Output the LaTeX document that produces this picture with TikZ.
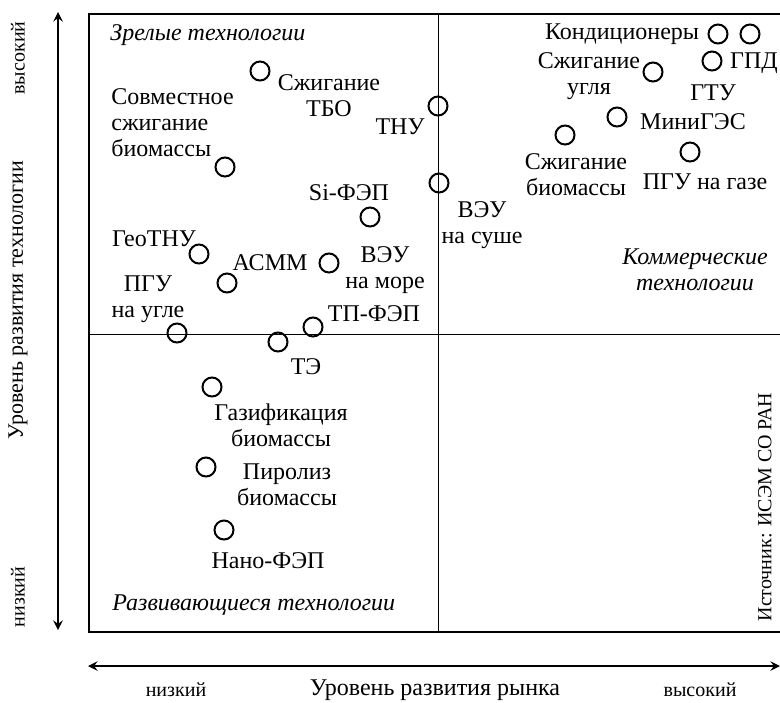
\documentclass[tikz,border=0pt]{standalone}
\usepackage{fontspec}
\setmainfont{Liberation Serif}
\usepackage{tikz}
\usetikzlibrary{shapes,arrows,positioning,calc}
\tikzstyle{tech} = [circle, draw=black, line width=1pt, minimum size=9.5pt, inner sep=0pt]
\tikzstyle{techname} = [align=center, inner sep=0pt, font=\fontsize{12}{13}\selectfont]
\tikzstyle{quarter} = [align=center, inner sep=0pt, font=\fontsize{12}{13}\selectfont\itshape]
\tikzstyle{axistext} = [inner sep=0pt, font=\fontsize{10}{12}\selectfont]
\tikzstyle{axis} = [line width=1.1pt,<->,>=stealth]

\begin{document}
\begin{tikzpicture}[x=0.5pt, y=-0.5pt]
    \useasboundingbox (0,0) rectangle (780,702);
    % Frame
    \coordinate (nw) at (89,14);
    \coordinate (se) at (783,632);
    \coordinate (midtop) at (438,14);
    \coordinate (midbot) at (438,632);
    \coordinate (midl) at (89,334);
    \coordinate (midr) at (783,334);
    \draw [line width=1.2pt] (nw) rectangle (se);
    \draw [line width=0.5pt] (midtop) -- (midbot);
    \draw [line width=0.5pt] (midl) -- (midr);

    % Axes
    \coordinate (ytop) at (58,12);
    \coordinate (ybot) at (58,630);
    \coordinate (xleft) at (88,666);
    \coordinate (xright) at (780,666);
    \draw [axis] (ybot) -- (ytop);
    \draw [axis] (xleft) -- (xright);
    \node (yhigh) [axistext, rotate=90] at (18,58) {высокий};
    \node (ytitle) [techname, font=\fontsize{11}{13}\selectfont, rotate=90] at (18,300) {Уровень развития технологии};
    \node (ylow) [axistext, rotate=90] at (18,597) {низкий};
    \node (xlow) [axistext] at (176,690) {низкий};
    \node (xtitle) [techname] at (435,690) {Уровень развития рынка};
    \node (xhigh) [axistext] at (700,690) {высокий};

    % Quadrants
    \node (mature) [quarter, anchor=west] at (110,35) {Зрелые технологии};
    \node (growing) [quarter, anchor=west] at (112,605) {Развивающиеся технологии};
    \node (commerce) [quarter] at (695,270) {Коммерческие\\технологии};
    \node (source) [axistext, rotate=90] at (765,507) {Источник: ИСЭМ СО РАН};

    % Technologies
    \node (tbo) [tech] at (260,71) {};
    \node (cofire) [tech] at (225,167) {};
    \node (thnu) [tech] at (438,106) {};
    \node (weuland) [tech] at (439,183) {};
    \node (sipv) [tech] at (370,217) {};
    \node (geo) [tech] at (199,254) {};
    \node (asmm) [tech] at (227,283) {};
    \node (weusea) [tech] at (329,263) {};
    \node (pgucoal) [tech] at (177,333) {};
    \node (fc) [tech] at (278,342) {};
    \node (tfpv) [tech] at (313,327) {};
    \node (gasif) [tech] at (212,387) {};
    \node (pyro) [tech] at (206,467) {};
    \node (nanopv) [tech] at (224,530) {};
    \node (cond1) [tech] at (718,34) {};
    \node (cond2) [tech] at (750,34) {};
    \node (gpd) [tech] at (712,61) {};
    \node (coal) [tech] at (653,72) {};
    \node (hydro) [tech] at (617,117) {};
    \node (bio) [tech] at (565,135) {};
    \node (pgugas) [tech] at (690,152) {};

    % Names
    \node (tbotxt) [techname] at (329,96) {Сжигание\\ТБО};
    \node (cofiretxt) [techname, align=left, anchor=west] at (111,123) {Совместное\\сжигание\\биомассы};
    \node (thnutxt) [techname] at (400,127) {ТНУ};
    \node (weulandtxt) [techname] at (482,225) {ВЭУ\\на суше};
    \node (sipvtxt) [techname] at (349,193) {Si-ФЭП};
    \node (geotxt) [techname] at (154,239) {ГеоТНУ};
    \node (asmmtxt) [techname] at (270,263) {АСММ};
    \node (weuseatxt) [techname] at (385,270) {ВЭУ\\на море};
    \node (pgucoaltxt) [techname] at (148,299) {ПГУ\\на угле};
    \node (tfpvtxt) [techname] at (374,314) {ТП-ФЭП};
    \node (fctxt) [techname] at (306,367) {ТЭ};
    \node (gasiftxt) [techname] at (281,425) {Газификация\\биомассы};
    \node (pyrotxt) [techname] at (287,485) {Пиролиз\\биомассы};
    \node (nanopvtxt) [techname] at (268,561) {Нано-ФЭП};
    \node (condtxt) [techname] at (622,34) {Кондиционеры};
    \node (coaltxt) [techname] at (589,76) {Сжигание\\угля};
    \node (gpdtxt) [techname] at (754,63) {ГПД};
    \node (gtutxt) [techname] at (713,93) {ГТУ};
    \node (hydrotxt) [techname] at (693,122) {МиниГЭС};
    \node (biotxt) [techname] at (576,175) {Сжигание\\биомассы};
    \node (pgugastxt) [techname] at (705,182) {ПГУ на газе};
\end{tikzpicture}
\end{document}
